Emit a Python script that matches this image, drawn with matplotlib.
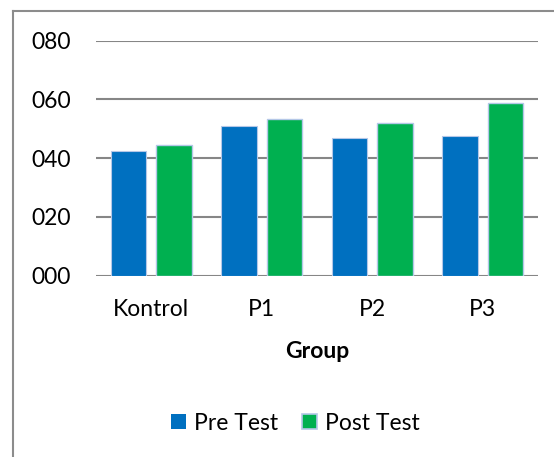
import matplotlib.pyplot as plt
import numpy as np
from matplotlib.lines import Line2D
from matplotlib.patches import Patch

plt.rcParams['font.family'] = ['Lato', 'DejaVu Sans']

groups = ['Kontrol', 'P1', 'P2', 'P3']
pre_test = [42.4, 50.8, 46.8, 47.5]
post_test = [44.5, 53.3, 52.0, 58.7]
y_ticks = [0, 20, 40, 60, 80]
y_tick_labels = ['000', '020', '040', '060', '080']

W, H = 554, 457
fig = plt.figure(figsize=(W / 100, H / 100), dpi=100)

# axes placed in pixel terms
left, right, top, bottom = 96, 538, 40.7, 275.7
ax = fig.add_axes([left / W, 1 - bottom / H, (right - left) / W, (bottom - top) / H])

x = np.arange(len(groups))
bw = 0.32
off = 0.2075
edge = '#b4c7e7'
ax.bar(x - off, pre_test, bw, color='#0070c0', edgecolor=edge, linewidth=0.8, zorder=3, label='Pre Test')
ax.bar(x + off, post_test, bw, color='#00b050', edgecolor=edge, linewidth=1.0, zorder=3, label='Post Test')

fs = 16.5
ax.set_xlim(-0.5, 3.5)
ax.set_ylim(0, 80)
ax.set_yticks(y_ticks)
ax.set_yticklabels(y_tick_labels)
ax.set_xticks(x)
ax.set_xticklabels(groups)
ax.tick_params(axis='both', length=0, labelsize=fs, colors='black')
ax.tick_params(axis='y', pad=18)
ax.tick_params(axis='x', pad=17)

ax.yaxis.grid(True, color='#868686', linewidth=1.5, zorder=0)
for s in ['top', 'right', 'left', 'bottom']:
    ax.spines[s].set_visible(False)

fig.text((left + right) / 2 / W, 1 - 352 / H, 'Group', ha='center', va='center',
         fontsize=fs, fontweight='bold')

handles = [Patch(facecolor='#0070c0', edgecolor='none'),
           Patch(facecolor='#00b050', edgecolor=edge, linewidth=1.2)]
fig.legend(handles, ['Pre Test', 'Post Test'], loc='center',
           bbox_to_anchor=(295 / W, 1 - 423 / H), ncol=2, frameon=False,
           fontsize=fs, handlelength=0.65, handleheight=0.65,
           handletextpad=0.35, columnspacing=1.05)

# outer chart border (left and top only visible)
border = '#8c8c8c'
fig.add_artist(Line2D([12.7 / W, 12.7 / W], [0, 1 - 11 / H], color=border, linewidth=1.5))
fig.add_artist(Line2D([12.7 / W, 553 / W], [1 - 11 / H, 1 - 11 / H], color=border, linewidth=1.5))

fig.savefig('out.png', dpi=100)
